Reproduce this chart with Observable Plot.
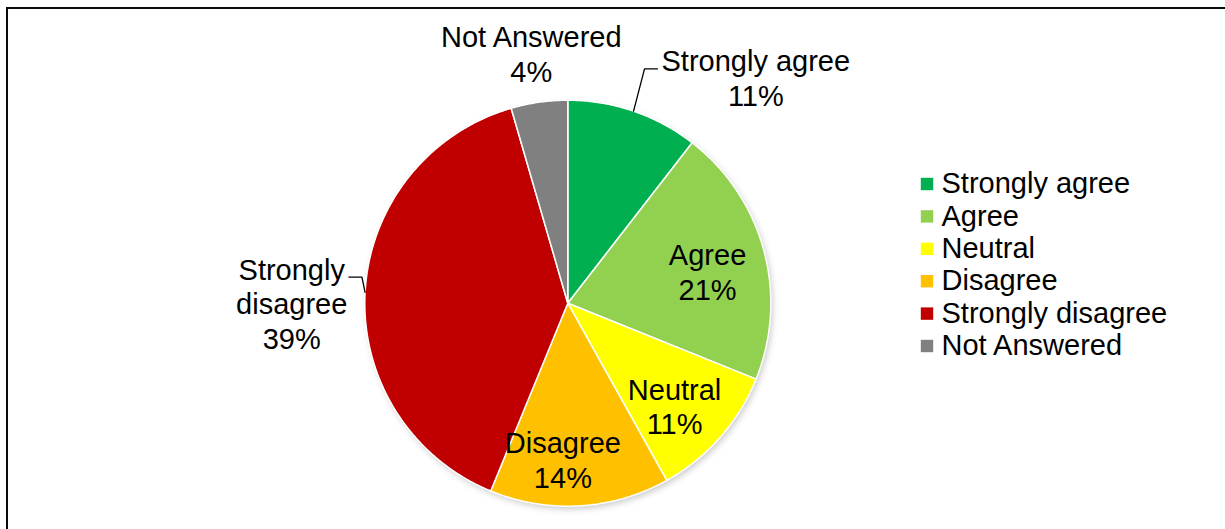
<!DOCTYPE html>
<html>
<head>
<meta charset="utf-8">
<script src="https://cdn.jsdelivr.net/npm/d3@7"></script>
<script src="https://cdn.jsdelivr.net/npm/@observablehq/plot@0.6"></script>
<style>
  html, body { margin: 0; padding: 0; background: #fff; }
  #wrap { position: relative; width: 1225px; height: 529px; overflow: hidden; background: #fff; }
  #frame { position: absolute; left: 6px; top: 7px; width: 1400px; height: 700px;
           border-top: 2px solid #0a0a0a; border-left: 2px solid #0a0a0a; pointer-events: none; }
  svg { font-family: "Liberation Sans", Arial, sans-serif; }
</style>
</head>
<body>
<div id="wrap"><div id="chart"></div><div id="frame"></div></div>
<script>
// ---- data ----
const categories = ["Strongly agree", "Agree", "Neutral", "Disagree", "Strongly disagree", "Not Answered"];
const shares = [10.5, 20.6, 10.8, 14.3, 39.3, 4.5];            // slice sizes (%)
const pctLabels = ["11%", "21%", "11%", "14%", "39%", "4%"];   // printed labels
const labelNames = ["Strongly agree", "Agree", "Neutral", "Disagree", "Strongly\ndisagree", "Not Answered"];
const colors = ["#00B050", "#92D050", "#FFFF00", "#FFC000", "#C00000", "#808080"];

// ---- layout ----
const W = 1225, H = 529, CX = 567.3, CY = 302.7, R = 203;
const FONT = 29, LH = 1.2;
// label placement (angle in degrees clockwise from top, radius factor)
const labelPolar = [[39.8, 1.447], [77.2, 0.706], [133.9, 0.73], [181.8, 0.77], [270, 1.36], [351.7, 1.245]];
const leaders = [{i: 0, side: 1}, {i: 4, side: -1}];

const total = d3.sum(shares);
let acc = 0;
const slices = categories.map((c, i) => {
  const a0 = acc / total * 2 * Math.PI; acc += shares[i];
  const a1 = acc / total * 2 * Math.PI;
  return {c, i, a0, a1, mid: (a0 + a1) / 2};
});
const polar = (a, r) => [CX + r * R * Math.sin(a), CY - r * R * Math.cos(a)];

const wedgePts = slices.flatMap(s => {
  const n = Math.max(2, Math.ceil((s.a1 - s.a0) / (Math.PI / 360)));
  const pts = [{c: s.c, p: [CX, CY]}];
  for (let k = 0; k <= n; k++) pts.push({c: s.c, p: polar(s.a0 + (s.a1 - s.a0) * k / n, 1)});
  pts.push({c: s.c, p: [CX, CY]});
  return pts;
});

const textData = slices.map((s, i) => {
  const [x, y] = polar(labelPolar[i][0] * Math.PI / 180, labelPolar[i][1]);
  return {x, y, text: labelNames[i] + "\n" + pctLabels[i]};
});

const ctx = document.createElement("canvas").getContext("2d");
ctx.font = `${FONT}px "Liberation Sans", Arial, sans-serif`;
const leaderPts = leaders.flatMap(({i, side}) => {
  const t = textData[i];
  const lines = t.text.split("\n");
  const firstCenter = t.y - (lines.length - 1) / 2 * FONT * LH;
  const w = ctx.measureText(lines[0]).width;
  const ey = firstCenter + 0.3 * FONT;
  const ex = t.x - side * (w / 2 + 4);
  const elbowX = ex - side * 13;
  return [polar(slices[i].mid, 1.0), [elbowX, ey], [ex, ey]].map(p => ({k: i, p}));
});

const legendData = categories.map((c, i) => ({c, x: 926.5, tx: 941, y: 183.5 + i * 32.4}));

const chart = Plot.plot({
  width: W, height: H,
  margin: 0,
  x: {domain: [0, W], range: [0, W], axis: null},
  y: {domain: [0, H], range: [0, H], axis: null},
  color: {domain: categories, range: colors},
  style: {background: "#fff", fontFamily: '"Liberation Sans", Arial, sans-serif'},
  marks: [
    Plot.dot([{x: CX + 2, y: CY + 3}], {x: "x", y: "y", r: R, fill: "#000", fillOpacity: 0.2, imageFilter: "blur(3px)"}),
    Plot.line(wedgePts, {x: d => d.p[0], y: d => d.p[1], z: "c", fill: "c", stroke: "white", strokeWidth: 1.5, strokeLinejoin: "round", curve: "linear"}),
    Plot.line(leaderPts, {x: d => d.p[0], y: d => d.p[1], z: "k", stroke: "#000", strokeWidth: 1.3}),
    Plot.text(textData, {x: "x", y: "y", text: "text", fontSize: FONT, lineHeight: LH, fill: "#000"}),
    Plot.dot(legendData, {x: "x", y: "y", symbol: "square", r: 7, fill: "c"}),
    Plot.text(legendData, {x: "tx", y: "y", text: "c", textAnchor: "start", fontSize: FONT, fill: "#000"})
  ]
});
document.getElementById("chart").appendChild(chart);
</script>
</body>
</html>
